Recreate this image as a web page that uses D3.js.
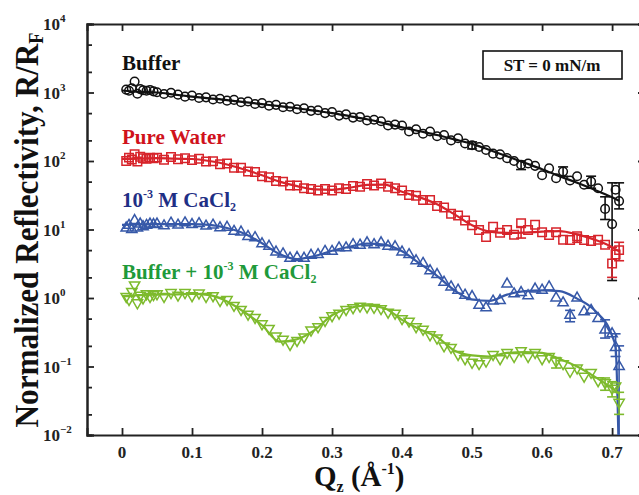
<!DOCTYPE html>
<html>
<head>
<meta charset="utf-8">
<script src="https://cdn.jsdelivr.net/npm/d3@7"></script>
<style>
  body { margin: 0; background: #fff; }
  svg { display: block; }
  text { font-family: "Liberation Serif", "DejaVu Serif", serif; font-weight: bold; }
</style>
</head>
<body>
<div id="chart"></div>
<script>
// measured points, shared q grid (A^-1)
var qData = [0.006,0.010,0.014,0.018,0.022,0.026,0.030,0.035,0.040,0.045,
  0.05,0.06,0.07,0.08,0.09,0.10,0.11,0.12,0.13,0.14,0.15,0.16,0.17,0.18,0.19,
  0.20,0.21,0.22,0.23,0.24,0.25,0.26,0.27,0.28,0.29,0.30,0.31,0.32,0.33,0.34,
  0.35,0.36,0.37,0.38,0.39,0.40,0.41,0.42,0.43,0.44,0.45,0.46,0.47,0.48,0.49,
  0.50,0.51,0.52,0.53,0.54,0.55,0.56,0.57,0.58,0.59,0.60,0.61,0.62,0.63,0.64,
  0.65,0.66,0.67,0.68,0.69,0.70,0.705,0.71];

var bufferData = [1100,1060,1150,1450,960,1120,1080,1060,1090,1040,
  1010,950,990,930,870,900,830,850,790,810,760,780,720,740,680,
  700,640,660,610,620,570,590,540,550,500,520,460,480,430,440,
  390,400,380,330,340,330,270,290,250,270,230,240,200,215,180,
  170,160,145,128,125,110,100,88,92,85,62,78,56,70,52,
  60,45,50,40,20,12,38,26];

var waterData = [100,112,105,125,98,115,110,108,112,110,
  112,104,114,106,110,103,108,98,99,90,92,80,80,70,69,
  60,58,51,50,44,44,40,39,37,39,37,40,39,43,42,
  46,44,47,42,40,37,32,31,27,27,22,21,17,16,13.5,
  11.5,9.8,7.8,11,9.0,9.8,8.4,12.3,9.8,11.7,9.1,8.3,9.1,7.1,7.0,
  8.0,7.0,6.8,7.1,6.0,3.2,4.3,5.0];

var cacl2Data = [10.5,11.5,10,13.5,10.5,12,11,11.5,12,11.8,
  12,11.3,12.4,11.6,12.5,11.8,12.2,11.2,11.6,10.6,10.8,9.4,9.2,7.9,7.6,
  6.2,5.7,4.7,4.4,3.8,3.9,3.8,4.2,4.3,4.8,4.8,5.4,5.4,6.0,5.9,
  6.4,6.0,6.4,5.7,5.6,4.7,4.3,3.5,3.2,2.5,2.2,1.7,1.45,1.3,1.1,
  1.05,0.78,0.72,0.9,0.92,1.6,1.15,1.2,1.08,1.35,1.3,1.45,1.0,0.85,0.56,
  1.0,0.63,0.66,0.5,0.34,0.3,0.19,0.1];

var mixData = [1.05,0.95,1.25,1.55,0.85,1.1,1.0,1.15,1.05,1.12,
  1.15,1.05,1.2,1.1,1.2,1.08,1.18,1.05,1.08,0.92,0.95,0.78,0.68,0.58,0.52,
  0.42,0.36,0.28,0.25,0.21,0.24,0.27,0.34,0.38,0.47,0.55,0.6,0.68,0.72,0.76,
  0.74,0.73,0.7,0.62,0.6,0.5,0.46,0.38,0.35,0.29,0.26,0.2,0.19,0.15,0.13,
  0.115,0.11,0.12,0.15,0.13,0.16,0.14,0.17,0.14,0.16,0.13,0.14,0.12,0.11,0.085,
  0.095,0.072,0.082,0.062,0.058,0.048,0.052,0.03];

// error bars [q, low, high]
var bufferErr = [[0.50,150,190],[0.57,75,100],[0.63,60,82],[0.67,40,60],[0.69,14,30],[0.70,1.8,48],[0.71,20,48]];
var waterErr = [[0.57,7.5,11],[0.65,6.5,8.5],[0.70,2.0,5.5],[0.71,3.5,6.5]];
var cacl2Err = [[0.64,0.45,0.66],[0.69,0.26,0.48],[0.705,0.14,0.3],[0.71,0.004,0.2]];
var mixErr = [[0.62,0.095,0.135],[0.69,0.045,0.068],[0.70,0.036,0.06],[0.71,0.02,0.042]];

// model fits
var qFit = [0,0.025,0.05,0.075,0.1,0.125,0.15,0.175,0.2,0.225,0.25,0.275,0.3,0.325,0.35,
  0.375,0.4,0.425,0.45,0.475,0.5,0.525,0.55,0.575,0.6,0.625,0.65,0.675,0.7,0.705,0.71];
var bufferFit = [1070,1020,1000,933,871,822,776,724,676,631,589,543,501,452,407,
  355,309,272,240,207,178,145,117,94,76,60,48,38,29.5,27.9,26.3];
var waterFit = [107,108,110,108,107,100,89,75,62,50,43,38.5,38,40.7,44.7,
  45.2,35.5,29.5,23.4,16.6,11.5,9.3,8.9,9.0,9.3,9.5,8.5,7.1,5.5,5.1,4.8];
var cacl2Fit = [11.7,11.9,12.0,12.0,12.0,11.7,10.5,8.7,6.3,4.4,3.7,4.1,4.9,5.6,6.2,
  6.0,4.8,3.2,2.1,1.29,0.95,0.91,1.12,1.26,1.29,1.26,0.98,0.66,0.28,0.19,0.003];
var mixFit = [1.07,1.10,1.12,1.13,1.15,1.10,0.89,0.62,0.40,0.23,0.25,0.34,0.56,0.71,0.78,
  0.71,0.48,0.35,0.27,0.17,0.145,0.14,0.158,0.162,0.158,0.129,0.10,0.071,0.048,0.044,0.040];

var xTicks = [0,0.1,0.2,0.3,0.4,0.5,0.6,0.7];
var yExp = [-2,-1,0,1,2,3,4];

var W = 639, H = 495;
var padL = 87, padR = 645, padT = 24, padB = 435;

var svg = d3.select("#chart").append("svg")
    .attr("width", W)
    .attr("height", H);

var x = d3.scaleLinear().domain([-0.05, 0.747]).range([padL, padR]);
var y = d3.scaleLog().domain([0.01, 10000]).range([padB, padT]);

svg.append("clipPath").attr("id", "clip")
  .append("rect").attr("x", padL).attr("y", padT).attr("width", padR - padL).attr("height", padB - padT);

// axes
var axStroke = "#222";
svg.append("g").attr("transform", "translate(0," + padB + ")")
  .call(d3.axisBottom(x).tickValues(xTicks).tickSize(-7).tickFormat(""));
svg.append("g").attr("transform", "translate(0," + padT + ")")
  .call(d3.axisTop(x).tickValues(xTicks).tickSize(-7).tickFormat(""));

var minor = [];
yExp.forEach(function(e) {
  if (e < 4) { minor.push(2 * Math.pow(10, e)); minor.push(5 * Math.pow(10, e)); }
});
var major = yExp.map(function(e) { return Math.pow(10, e); });

svg.append("g").attr("transform", "translate(" + padL + ",0)")
  .call(d3.axisLeft(y).tickValues(major).tickSize(-7).tickFormat(""));
svg.append("g").attr("transform", "translate(" + padL + ",0)")
  .call(d3.axisLeft(y).tickValues(minor).tickSize(-5).tickFormat(""));
svg.append("g").attr("transform", "translate(" + padR + ",0)")
  .call(d3.axisRight(y).tickValues(major).tickSize(-7).tickFormat(""));
svg.append("g").attr("transform", "translate(" + padR + ",0)")
  .call(d3.axisRight(y).tickValues(minor).tickSize(-5).tickFormat(""));

svg.selectAll(".domain").attr("stroke", axStroke).attr("stroke-width", 2);
svg.selectAll(".tick line").attr("stroke", axStroke).attr("stroke-width", 1.8);

// tick labels
svg.append("g").selectAll("text").data(xTicks).enter().append("text")
  .attr("x", function(d) { return x(d); })
  .attr("y", 458)
  .attr("text-anchor", "middle")
  .attr("font-size", 17)
  .attr("fill", "#222")
  .text(function(d) { return d === 0 ? "0" : d3.format(".1f")(d); });

var yl = svg.append("g").selectAll("text").data(yExp).enter().append("text")
  .attr("x", 43)
  .attr("y", function(d) { return y(Math.pow(10, d)) + 6; })
  .attr("font-size", 17)
  .attr("fill", "#222");
yl.append("tspan").text("10");
yl.append("tspan").attr("dy", -8).attr("font-size", 11)
  .text(function(d) { return d < 0 ? "\u2212" + (-d) : d; });

// axis titles
var yt = svg.append("text")
  .attr("transform", "translate(38,230) rotate(-90)")
  .attr("text-anchor", "middle")
  .attr("font-size", 34)
  .attr("fill", "#111")
  .attr("textLength", 395)
  .attr("lengthAdjust", "spacingAndGlyphs");
yt.append("tspan").text("Normalized Reflectivity, R/R");
yt.append("tspan").attr("font-size", 20).attr("dy", 5).text("F");

var xt = svg.append("text")
  .attr("x", 314).attr("y", 486)
  .attr("font-size", 29)
  .attr("fill", "#111");
xt.append("tspan").text("Q");
xt.append("tspan").attr("font-size", 16).attr("dy", 6).text("z");
xt.append("tspan").attr("dy", -6).text(" (\u00C5");
xt.append("tspan").attr("font-size", 16).attr("dy", -12).text("-1");
xt.append("tspan").attr("dy", 12).text(")");

// series
var series = [
  {data: bufferData, err: bufferErr, fit: bufferFit, color: "#111111", shape: "circle"},
  {data: waterData, err: waterErr, fit: waterFit, color: "#d7242b", shape: "square"},
  {data: cacl2Data, err: cacl2Err, fit: cacl2Fit, color: "#3658a8", shape: "up"},
  {data: mixData, err: mixErr, fit: mixFit, color: "#7dba2c", shape: "down"}
];

var plot = svg.append("g").attr("clip-path", "url(#clip)");

var line = d3.line()
  .x(function(d) { return x(d[0]); })
  .y(function(d) { return y(Math.max(d[1], 0.001)); })
  .curve(d3.curveMonotoneX);

function symbolPath(shape) {
  if (shape === "circle") return d3.symbol().type(d3.symbolCircle).size(58)();
  if (shape === "square") return d3.symbol().type(d3.symbolSquare).size(72)();
  return d3.symbol().type(d3.symbolTriangle).size(46)();
}

series.forEach(function(s) {
  var g = plot.append("g");
  var pts = qData.map(function(q, i) { return [q, s.data[i]]; });

  g.selectAll("path.mk").data(pts).enter().append("path")
    .attr("class", "mk")
    .attr("d", symbolPath(s.shape))
    .attr("transform", function(d) {
      var t = "translate(" + x(d[0]) + "," + y(d[1]) + ")";
      return s.shape === "down" ? t + " rotate(180)" : t;
    })
    .attr("fill", "none")
    .attr("stroke", s.color)
    .attr("stroke-width", 1.5);

  var eb = g.selectAll("g.eb").data(s.err).enter().append("g")
    .attr("stroke", s.color).attr("stroke-width", 1.6);
  eb.append("line")
    .attr("x1", function(d) { return x(d[0]); }).attr("x2", function(d) { return x(d[0]); })
    .attr("y1", function(d) { return y(d[1]); }).attr("y2", function(d) { return y(d[2]); });
  eb.append("line")
    .attr("x1", function(d) { return x(d[0]) - 5; }).attr("x2", function(d) { return x(d[0]) + 5; })
    .attr("y1", function(d) { return y(d[1]); }).attr("y2", function(d) { return y(d[1]); });
  eb.append("line")
    .attr("x1", function(d) { return x(d[0]) - 5; }).attr("x2", function(d) { return x(d[0]) + 5; })
    .attr("y1", function(d) { return y(d[2]); }).attr("y2", function(d) { return y(d[2]); });

  g.append("path")
    .datum(qFit.map(function(q, i) { return [q, s.fit[i]]; }))
    .attr("d", line)
    .attr("fill", "none")
    .attr("stroke", s.color)
    .attr("stroke-width", 2.2);
});

// labels
function label(yPos, color, parts) {
  var t = svg.append("text").attr("x", 122).attr("y", yPos)
    .attr("font-size", 21).attr("fill", color);
  parts.forEach(function(p) {
    var ts = t.append("tspan").text(p[0]);
    if (p[1] === "sup") ts.attr("font-size", 12).attr("dy", -9);
    if (p[1] === "sub") ts.attr("font-size", 12).attr("dy", 4);
    if (p[1] === "back") ts.attr("dy", 9);
  });
}
label(70, "#111", [["Buffer"]]);
label(144, "#d0121b", [["Pure Water"]]);
label(207, "#1f2f85", [["10"], ["-3", "sup"], [" M CaCl", "back"], ["2", "sub"]]);
label(279, "#1f9a3a", [["Buffer + 10"], ["-3", "sup"], [" M CaCl", "back"], ["2", "sub"]]);

// surface tension box
svg.append("rect")
  .attr("x", 483).attr("y", 51).attr("width", 139).attr("height", 28)
  .attr("fill", "#fff").attr("stroke", "#111").attr("stroke-width", 1.6);
svg.append("text")
  .attr("x", 552).attr("y", 71)
  .attr("text-anchor", "middle")
  .attr("font-size", 17)
  .attr("fill", "#111")
  .text("ST = 0 mN/m");
</script>
</body>
</html>
